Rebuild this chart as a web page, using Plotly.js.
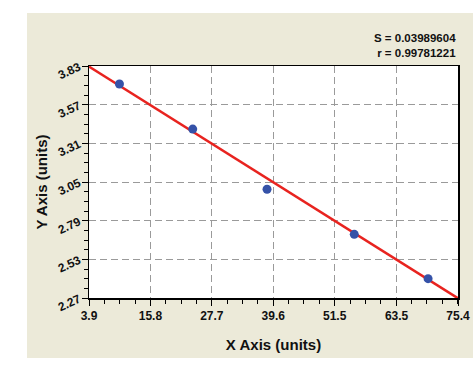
<!DOCTYPE html>
<html><head><meta charset="utf-8">
<script src="https://cdn.plot.ly/plotly-3.0.1.min.js"></script>
<style>
html,body{margin:0;padding:0;background:#fff;}
#bg{position:absolute;left:27px;top:13px;width:446px;height:345px;background:#ecead9;}
#chart{position:absolute;left:0;top:0;width:473px;height:367px;}
</style></head><body>
<div id="bg"></div>
<div id="chart"></div>
<script>
const xData = [9.8, 24.0, 38.4, 55.3, 69.6];
const yData = [3.709, 3.406, 3.001, 2.698, 2.400];
const fitX = [3.9, 75.4];
const fitY = [3.826, 2.268];
const xTicks = [3.9, 15.8, 27.7, 39.6, 51.5, 63.5, 75.4];
const yTicks = [2.27, 2.53, 2.79, 3.05, 3.31, 3.57, 3.83];
const statS = "S = 0.03989604";
const statR = "r = 0.99781221";
const font = "Liberation Sans, Arial, sans-serif";

const traces = [
  {x: fitX, y: fitY, mode: 'lines', line: {color: '#e8231f', width: 2.5}, hoverinfo: 'none'},
  {x: xData, y: yData, mode: 'markers', marker: {color: '#3552a8', size: 9, symbol: 'circle'}, hoverinfo: 'none'}
];
const layout = {
  width: 473, height: 367,
  margin: {l: 89, r: 15, t: 66, b: 69},
  paper_bgcolor: 'rgba(0,0,0,0)', plot_bgcolor: '#fff',
  showlegend: false,
  font: {family: font, color: '#111'},
  xaxis: {
    range: [3.9, 75.4], tickvals: xTicks, ticktext: xTicks.map(v => '<b>' + v.toFixed(1) + '</b>'),
    showgrid: true, gridcolor: '#9a9a9a', griddash: '7px,4px', gridwidth: 1,
    ticks: 'outside', ticklen: 6, tickcolor: '#000', tickwidth: 1,
    minor: {dtick: 2.975, tick0: 3.9, ticks: 'outside', ticklen: 4, tickcolor: '#000', showgrid: false},
    showline: true, linecolor: '#000', linewidth: 1.5, mirror: true, zeroline: false,
    tickfont: {family: font, size: 12, color: '#111'},
    title: {text: '<b>X Axis (units)</b>', font: {family: font, size: 15, color: '#111'}, standoff: 17}
  },
  yaxis: {
    range: [2.27, 3.83], tickvals: yTicks, ticktext: yTicks.map(v => '<b>' + v.toFixed(2) + '</b>'),
    showgrid: true, gridcolor: '#9a9a9a', griddash: '7px,4px', gridwidth: 1,
    ticks: 'outside', ticklen: 6, tickcolor: '#000', tickwidth: 1, tickangle: -25,
    minor: {dtick: 0.065, tick0: 2.27, ticks: 'outside', ticklen: 4, tickcolor: '#000', showgrid: false},
    showline: true, linecolor: '#000', linewidth: 1.5, mirror: true, zeroline: false,
    tickfont: {family: font, size: 12, color: '#111'},
    title: {text: '<b>Y Axis (units)</b>', font: {family: font, size: 15, color: '#111'}, standoff: 4}
  },
  annotations: [
    {xref: 'paper', yref: 'paper', x: 1, y: 1, xanchor: 'right', yanchor: 'bottom', yshift: 5,
     text: '<b>' + statS + '</b><br><b>' + statR + '</b>', align: 'right', showarrow: false,
     font: {family: font, size: 11.5, color: '#111'}}
  ]
};
Plotly.newPlot('chart', traces, layout, {displayModeBar: false, staticPlot: true});
</script>
</body></html>
